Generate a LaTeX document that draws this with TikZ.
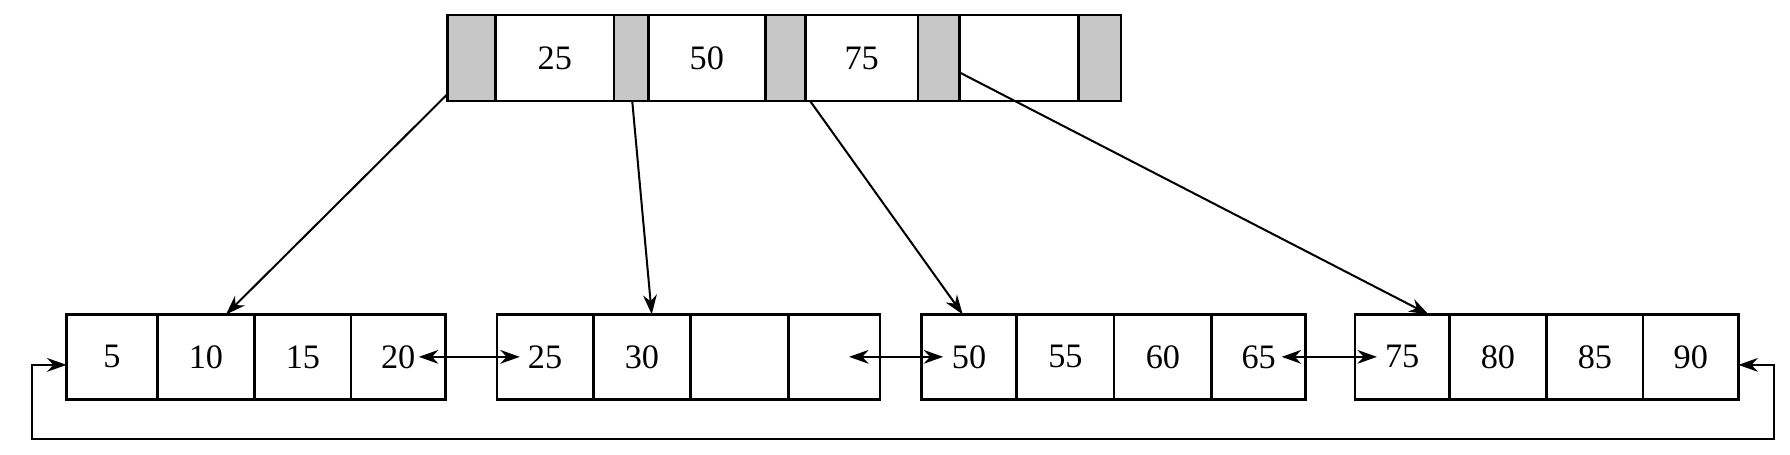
\documentclass[tikz,border=0pt]{standalone}
\usepackage{fontspec}
\setmainfont{Liberation Serif}
\usetikzlibrary{arrows.meta,calc}
\begin{document}
\begin{tikzpicture}[x=0.2mm,y=-0.2mm,
  cell/.style={draw=black,line width=1.3pt,inner sep=0pt,outer sep=0pt,font=\fontsize{17}{20}\selectfont},
  ptr/.style={cell,fill=black!22},
  arr/.style={-{Stealth[length=3.4mm,width=2.4mm]},line width=1pt},
  darr/.style={{Stealth[length=3.4mm,width=2.4mm]}-{Stealth[length=3.4mm,width=2.4mm]},line width=1pt}]
\useasboundingbox (0,0) rectangle (1560,396);
\newcommand{\mycell}[7]{\node[#1,minimum width={(#4-#3)*0.2mm},minimum height={(#6-#5)*0.2mm}] (#2) at ({(#3+#4)/2},{(#5+#6)/2}) {#7};}
% top node
\mycell{ptr}{p0}{390}{432}{13}{88}{}
\mycell{cell}{k1}{432}{535}{13}{88}{25}
\mycell{ptr}{p1}{535}{565}{13}{88}{}
\mycell{cell}{k2}{565}{667}{13}{88}{50}
\mycell{ptr}{p2}{667}{702}{13}{88}{}
\mycell{cell}{k3}{702}{800}{13}{88}{75}
\mycell{ptr}{p3}{800}{836}{13}{88}{}
\mycell{cell}{k4}{836}{940}{13}{88}{}
\mycell{ptr}{p4}{940}{977}{13}{88}{}
% leaves
\mycell{cell}{a1}{58}{137}{274}{348}{5}
\mycell{cell}{a2}{137}{222}{274}{348}{10}
\mycell{cell}{a3}{222}{306}{274}{348}{15}
\mycell{cell}{a4}{306}{388}{274}{348}{20}
\mycell{cell}{b1}{433}{517}{274}{348}{25}
\mycell{cell}{b2}{517}{602}{274}{348}{30}
\mycell{cell}{b3}{602}{687}{274}{348}{}
\mycell{cell}{b4}{687}{767}{274}{348}{}
\mycell{cell}{c1}{803}{886}{274}{348}{50}
\mycell{cell}{c2}{886}{971}{274}{348}{55}
\mycell{cell}{c3}{971}{1056}{274}{348}{60}
\mycell{cell}{c4}{1056}{1138}{274}{348}{65}
\mycell{cell}{d1}{1181}{1263}{274}{348}{75}
\mycell{cell}{d2}{1263}{1348}{274}{348}{80}
\mycell{cell}{d3}{1348}{1432}{274}{348}{85}
\mycell{cell}{d4}{1432}{1515}{274}{348}{90}
% pointer arrows
\coordinate (s0) at (390,82);
\coordinate (s1) at (551,88);
\coordinate (s2) at (706,88);
\coordinate (s3) at (836,63);
\draw[arr] (s0) -- (a2.north west -| 197,0);
\draw[arr] (s1) -- (b2.north west -| 568,0);
\draw[arr] (s2) -- (c1.north west -| 839,0);
\draw[arr] (s3) -- (d1.north west -| 1245,0);
% sibling links
\coordinate (e1) at (365,311); \coordinate (f1) at (453,311);
\coordinate (e2) at (740,311); \coordinate (f2) at (822,311);
\coordinate (e3) at (1117,311); \coordinate (f3) at (1200,311);
\draw[darr] (e1) -- (f1);
\draw[darr] (e2) -- (f2);
\draw[darr] (e3) -- (f3);
% wrap link
\draw[darr] ([yshift=-1.4mm]d4.east) -- ++(31,0) |- (28,383) |- ([yshift=-1.4mm]a1.west);
\end{tikzpicture}
\end{document}
